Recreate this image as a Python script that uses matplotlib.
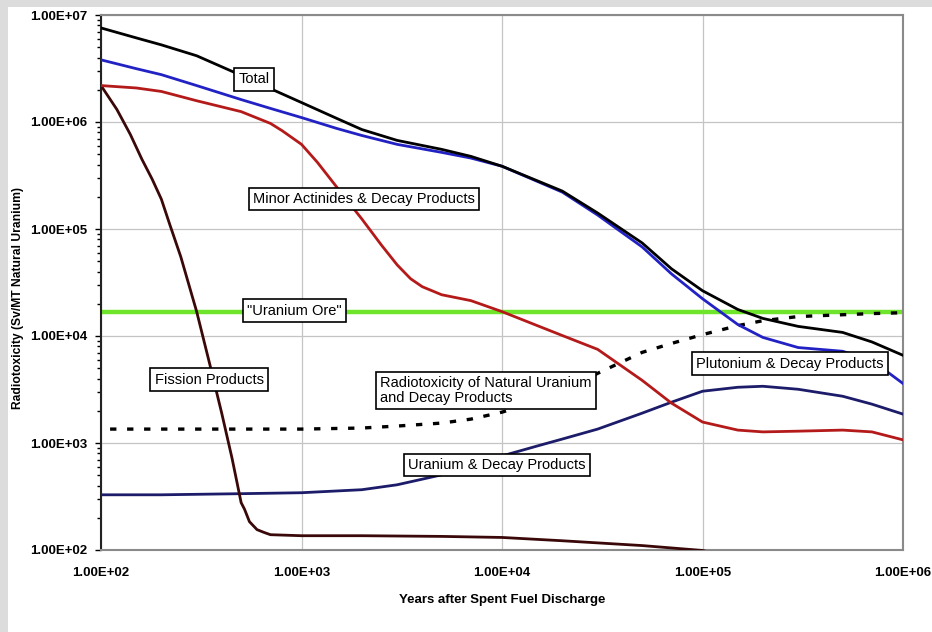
import matplotlib
matplotlib.use('Agg')
import matplotlib.pyplot as plt
from matplotlib.patches import Rectangle
from matplotlib.ticker import FuncFormatter, LogLocator, NullFormatter

plt.rcParams['font.family'] = ['Liberation Sans', 'DejaVu Sans']

# years after discharge / radiotoxicity (Sv/MT natural uranium)
total_x = [100, 150, 200, 300, 500, 700, 1000, 1500, 2000, 3000, 5000, 7000,
           1e4, 2e4, 3e4, 5e4, 7e4, 1e5, 1.5e5, 2e5, 3e5, 5e5, 7e5, 1e6]
total_y = [7.57e6, 6.11e6, 5.26e6, 4.16e6, 2.73e6, 2.05e6, 1.52e6, 1.08e6, 8.5e5,
           6.73e5, 5.55e5, 4.77e5, 3.86e5, 2.26e5, 1.41e5, 7.41e4, 4.25e4, 2.65e4,
           1.77e4, 1.46e4, 1.23e4, 1.08e4, 8.8e3, 6.6e3]

pu_x = total_x
pu_y = [3.81e6, 3.15e6, 2.77e6, 2.19e6, 1.62e6, 1.34e6, 1.10e6, 8.7e5, 7.48e5,
        6.18e5, 5.20e5, 4.60e5, 3.86e5, 2.21e5, 1.35e5, 6.8e4, 3.81e4, 2.23e4,
        1.28e4, 9.7e3, 7.8e3, 7.2e3, 5.9e3, 3.6e3]

ma_x = [100, 150, 200, 300, 500, 700, 800, 1000, 1200, 1500, 1700, 2000, 2500,
        3000, 3500, 4000, 5000, 7000, 1e4, 1.5e4, 2e4, 3e4, 5e4, 7e4, 1e5,
        1.5e5, 2e5, 3e5, 5e5, 7e5, 1e6]
ma_y = [2.19e6, 2.08e6, 1.93e6, 1.58e6, 1.25e6, 9.7e5, 8.3e5, 6.18e5, 4.20e5,
        2.46e5, 1.82e5, 1.24e5, 7.10e4, 4.62e4, 3.43e4, 2.89e4, 2.43e4, 2.14e4,
        1.69e4, 1.25e4, 1.01e4, 7.5e3, 3.85e3, 2.36e3, 1.57e3, 1.32e3, 1.27e3,
        1.29e3, 1.32e3, 1.27e3, 1.07e3]

fp_x = [100, 120, 140, 160, 180, 200, 220, 250, 300, 350, 400, 450, 500, 520,
        550, 600, 650, 700, 1000, 2000, 5000, 1e4, 2e4, 5e4, 1e5, 1.2e5]
fp_y = [2.19e6, 1.31e6, 7.66e5, 4.48e5, 2.92e5, 1.90e5, 1.11e5, 5.5e4, 1.69e4,
        5.3e3, 1.90e3, 725, 277, 240, 184, 155, 146, 139, 136, 136, 134, 131,
        122, 110, 99, 91]

u_x = [100, 200, 500, 1000, 2000, 3000, 5000, 7000, 1e4, 1.5e4, 2e4, 3e4, 5e4,
       7e4, 1e5, 1.5e5, 2e5, 3e5, 5e5, 7e5, 1e6]
u_y = [328, 328, 336, 343, 366, 407, 504, 624, 757, 938, 1089, 1349, 1901, 2406,
       3046, 3318, 3390, 3178, 2735, 2307, 1862]

nat_x = [111, 200, 1000, 2000, 3000, 5000, 7000, 1e4, 1.5e4, 2e4, 3e4, 5e4, 7e4,
         1e5, 1.5e5, 2e5, 3e5, 5e5, 7e5, 1e6]
nat_y = [1349, 1349, 1349, 1380, 1440, 1535, 1672, 1942, 2459, 3046, 4480, 7030,
         8520, 1.03e4, 1.25e4, 1.39e4, 1.52e4, 1.58e4, 1.62e4, 1.65e4]

ore_level = 1.69e4

fig = plt.figure(figsize=(9.32, 6.32), dpi=100)
fig.patches.append(Rectangle((0, 1 - 7 / 632), 1, 7 / 632, transform=fig.transFigure,
                             facecolor='#dcdcdc', edgecolor='none', zorder=0))
fig.patches.append(Rectangle((0, 0), 8 / 932, 1, transform=fig.transFigure,
                             facecolor='#dcdcdc', edgecolor='none', zorder=0))

ax = fig.add_axes([101 / 932, 82 / 632, 802 / 932, 535 / 632])
ax.set_xscale('log')
ax.set_yscale('log')
ax.set_xlim(1e2, 1e6)
ax.set_ylim(1e2, 1e7)

ax.grid(True, which='major', color='#c4c4c4', lw=0.9)
ax.set_axisbelow(True)

ax.plot([1e2, 1e6], [ore_level, ore_level], color='#6ee42a', lw=3.2, zorder=2)
ax.plot(nat_x, nat_y, color='black', lw=2.4, ls=(0, (1.9, 3.2)), zorder=3)
ax.plot(u_x, u_y, color='#1c1c6a', lw=2.0, zorder=3)
ax.plot(fp_x, fp_y, color='#3a0808', lw=2.0, zorder=3)
ax.plot(ma_x, ma_y, color='#b41a1a', lw=2.0, zorder=3)
ax.plot(pu_x, pu_y, color='#2222c4', lw=2.0, zorder=4)
ax.plot(total_x, total_y, color='black', lw=2.0, zorder=5)

box = dict(boxstyle='square,pad=0.3', facecolor='white', edgecolor='black', lw=1.2)
labels = [
    ('Total', 0.191, 0.880, 'center'),
    ('Minor Actinides & Decay Products', 0.328, 0.656, 'center'),
    ('"Uranium Ore"', 0.241, 0.447, 'center'),
    ('Fission Products', 0.135, 0.318, 'center'),
    ('Radiotoxicity of Natural Uranium\nand Decay Products', 0.348, 0.298, 'left'),
    ('Plutonium & Decay Products', 0.859, 0.348, 'center'),
    ('Uranium & Decay Products', 0.494, 0.159, 'center'),
]
for txt, fx, fy, ha in labels:
    ax.text(fx, fy, txt, transform=ax.transAxes, ha=ha, va='center', fontsize=10.5,
            linespacing=1.05, bbox=box, zorder=10)

fmt = FuncFormatter(lambda v, p: f'{v:.2E}')
ax.xaxis.set_major_formatter(fmt)
ax.yaxis.set_major_formatter(fmt)
ax.xaxis.set_minor_formatter(NullFormatter())
ax.yaxis.set_minor_formatter(NullFormatter())
ax.yaxis.set_minor_locator(LogLocator(base=10, subs=range(2, 10)))
ax.xaxis.set_minor_locator(LogLocator(base=10, subs=[]))

for lab in ax.get_xticklabels() + ax.get_yticklabels():
    lab.set_fontweight('bold')
ax.tick_params(axis='x', length=0, pad=12, labelsize=9.5)
ax.tick_params(axis='y', which='major', length=4, width=1, pad=6, labelsize=9.5)
ax.tick_params(axis='y', which='minor', length=3, width=1)

for s in ['top', 'right', 'bottom']:
    ax.spines[s].set_color('#8a8a8a')
    ax.spines[s].set_linewidth(1.5)
ax.spines['left'].set_color('#222222')
ax.spines['left'].set_linewidth(1.5)

ax.set_xlabel('Years after Spent Fuel Discharge', fontsize=9.5, fontweight='bold', labelpad=11)
ax.set_ylabel('Radiotoxicity (Sv/MT Natural Uranium)', fontsize=8.7, fontweight='bold',
              labelpad=4, y=0.471)

fig.savefig('out.png', dpi=100, facecolor='white')
